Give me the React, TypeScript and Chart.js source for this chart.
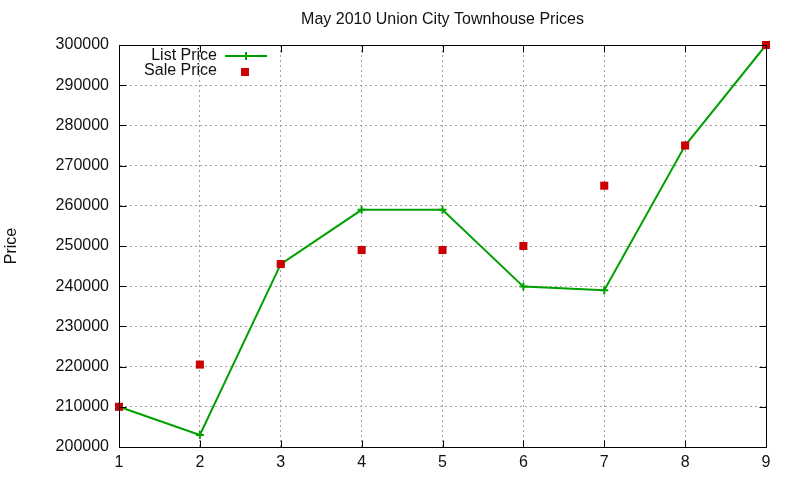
import React, { useEffect, useRef } from 'react';
import { Chart, registerables } from 'chart.js';

Chart.register(...registerables);

const chartTitle = 'May 2010 Union City Townhouse Prices';
const yTitle = 'Price';
const houses = [1, 2, 3, 4, 5, 6, 7, 8, 9];
const listPrice = [210000, 203000, 245500, 259000, 259000, 239900, 239000, 275000, 300000];
const salePrice = [210000, 220500, 245500, 249000, 249000, 250000, 265000, 275000, 300000];
const seriesNames = ['List Price', 'Sale Price'];

const GREEN = '#00a000';
const RED = '#cc0000';
const FONT = '"Liberation Sans", Arial, sans-serif';

// gnuplot-ish frame, mirrored inward ticks, title, y label and legend
const gnuplotPlugin = {
    id: 'gnuplotDecor',
    afterDraw(chart: any) {
        const { ctx, chartArea: a, scales } = chart;
        const L = Math.round(a.left) + 0.5;
        const R = Math.round(a.right) + 0.5;
        const T = Math.round(a.top) + 0.5;
        const B = Math.round(a.bottom) + 0.5;
        ctx.save();
        ctx.strokeStyle = '#000';
        ctx.lineWidth = 1;
        ctx.setLineDash([]);
        ctx.strokeRect(L, T, R - L, B - T);

        ctx.beginPath();
        scales.y.ticks.forEach((_t: any, i: number) => {
            const y = Math.round(scales.y.getPixelForTick(i)) + 0.5;
            ctx.moveTo(L, y); ctx.lineTo(L + 7, y);
            ctx.moveTo(R, y); ctx.lineTo(R - 7, y);
        });
        scales.x.ticks.forEach((_t: any, i: number) => {
            const x = Math.round(scales.x.getPixelForTick(i)) + 0.5;
            ctx.moveTo(x, B); ctx.lineTo(x, B - 7);
            ctx.moveTo(x, T); ctx.lineTo(x, T + 7);
        });
        ctx.stroke();

        ctx.fillStyle = '#111';
        ctx.font = `16px ${FONT}`;
        ctx.textAlign = 'center';
        ctx.textBaseline = 'middle';
        ctx.fillText(chartTitle, (a.left + a.right) / 2, 20);

        ctx.save();
        ctx.translate(12, (a.top + a.bottom) / 2);
        ctx.rotate(-Math.PI / 2);
        ctx.fillText(yTitle, 0, 0);
        ctx.restore();

        // legend
        ctx.textAlign = 'right';
        ctx.fillText(seriesNames[0], 217, 56);
        ctx.fillText(seriesNames[1], 217, 71);
        ctx.strokeStyle = GREEN;
        ctx.lineWidth = 2;
        ctx.beginPath();
        ctx.moveTo(225, 56); ctx.lineTo(267, 56);
        ctx.moveTo(246, 52); ctx.lineTo(246, 60);
        ctx.stroke();
        ctx.fillStyle = RED;
        ctx.fillRect(241, 68, 8, 8);
        ctx.restore();
    },
};

const App: React.FC = () => {
    const canvasRef = useRef<HTMLCanvasElement | null>(null);

    useEffect(() => {
        if (!canvasRef.current) return;
        const chart = new Chart(canvasRef.current, {
            type: 'line',
            data: {
                datasets: [
                    {
                        label: seriesNames[0],
                        data: houses.map((h, i) => ({ x: h, y: listPrice[i] })),
                        borderColor: GREEN,
                        backgroundColor: GREEN,
                        borderWidth: 2,
                        pointStyle: 'cross',
                        pointRadius: 4,
                        pointBorderWidth: 2,
                        tension: 0,
                        clip: false,
                        order: 2,
                    },
                    {
                        label: seriesNames[1],
                        data: houses.map((h, i) => ({ x: h, y: salePrice[i] })),
                        showLine: false,
                        borderColor: RED,
                        backgroundColor: RED,
                        pointStyle: 'rect',
                        pointRadius: 5.7,
                        pointBorderWidth: 0,
                        clip: false,
                        order: 1,
                    },
                ],
            },
            options: {
                animation: false,
                responsive: false,
                layout: { padding: { top: 45, right: 34, bottom: 0, left: 0 } },
                plugins: {
                    legend: { display: false },
                    title: { display: false },
                    tooltip: { enabled: false },
                },
                scales: {
                    x: {
                        type: 'linear',
                        min: 1,
                        max: 9,
                        afterFit: (s: any) => { s.height = 33; },
                        ticks: { stepSize: 1, padding: 6, color: '#111', font: { family: FONT, size: 16 } },
                        grid: { color: '#a0a0a0', drawTicks: false },
                        border: { color: '#000', dash: [2, 3] },
                    },
                    y: {
                        min: 200000,
                        max: 300000,
                        afterFit: (s: any) => { s.width = 119; },
                        ticks: {
                            stepSize: 10000,
                            padding: 10,
                            color: '#111',
                            font: { family: FONT, size: 16 },
                            callback: (v: any) => String(v),
                        },
                        grid: { color: '#a0a0a0', drawTicks: false },
                        border: { color: '#000', dash: [2, 3] },
                    },
                },
            },
            plugins: [gnuplotPlugin],
        });
        return () => chart.destroy();
    }, []);

    return (
        <div style={{ position: 'absolute', left: 0, top: 0, width: 800, height: 480, background: '#fff' }}>
            <canvas ref={canvasRef} width={800} height={480} />
        </div>
    );
};

export default App;
